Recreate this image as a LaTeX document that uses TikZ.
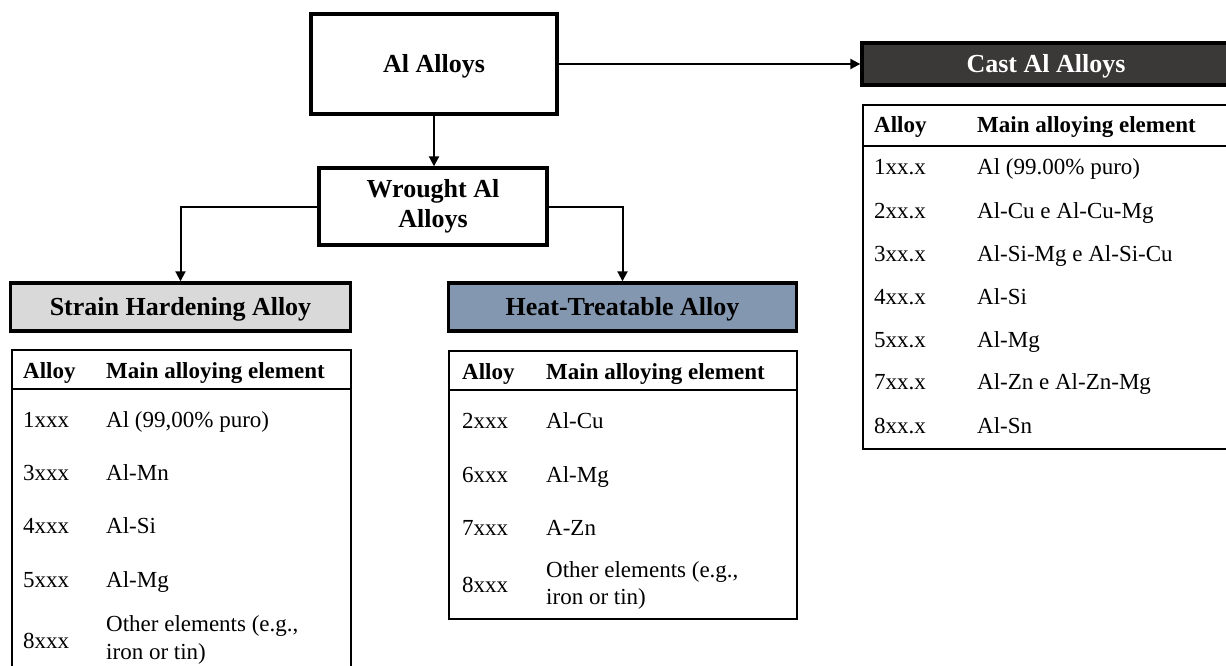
\documentclass[tikz,border=0pt]{standalone}
\usepackage{fontspec}
\setmainfont{Liberation Serif}
\usetikzlibrary{arrows.meta}
\definecolor{strainfill}{HTML}{D9D9D9}
\definecolor{heatfill}{HTML}{8497B0}
\definecolor{castfill}{HTML}{3B3838}
\begin{document}
\begin{tikzpicture}[x=1pt,y=-1pt,
  catbox/.style={draw=black, line width=3.4pt, font=\fontsize{26}{30}\selectfont\bfseries, inner sep=0pt, align=center},
  oneline/.style={text height=17.5pt, text depth=0pt},
  tablebox/.style={draw=black, line width=2pt, anchor=north west, inner sep=0pt},
  sepline/.style={line width=2pt},
  cell/.style={anchor=base west, inner sep=0pt, font=\fontsize{23}{27}\selectfont},
  headcell/.style={cell, font=\fontsize{23}{27}\selectfont\bfseries},
  twocell/.style={anchor=west, inner sep=0pt, align=left, font=\fontsize{23}{27.5}\selectfont},
  conn/.style={line width=2pt, -{Triangle[length=10pt,width=10pt]}},
]
\useasboundingbox (0,0) rectangle (1226,666);

% category boxes
\node[catbox, oneline, minimum width=246pt, minimum height=100pt] (al) at (434,64) {Al Alloys};
\node[catbox, minimum width=228pt, minimum height=77pt] (wrought) at (433,206.5) {Wrought Al\\Alloys};
\node[catbox, oneline, fill=castfill, text=white, minimum width=368pt, minimum height=42pt] (cast) at (1046,64) {Cast Al Alloys};
\node[catbox, oneline, fill=strainfill, minimum width=340pt, minimum height=48pt] (strain) at (180.5,307) {Strain Hardening Alloy};
\node[catbox, oneline, fill=heatfill, minimum width=348pt, minimum height=48pt] (heat) at (622.5,307) {Heat-Treatable Alloy};

% connectors
\draw[conn] (al.south) -- (al.south |- wrought.north);
\draw[conn] (al.east) -- (al.east -| cast.west);
\draw[conn] (wrought.west) -| (strain.north);
\draw[conn] (wrought.east) -| (heat.north);

% strain hardening table
\node[tablebox, minimum width=339pt, minimum height=360pt] (stab) at (11,349) {};
\draw[sepline] (stab.west |- 0,389) -- (stab.east |- 0,389);
\node[headcell] (sh1) at (23,378) {Alloy};
\node[headcell] (sh2) at (106,378) {Main alloying element};
\node[cell] (sa1) at (23,427) {1xxx};
\node[cell] (sb1) at (106,427) {Al (99,00\% puro)};
\node[cell] (sa2) at (23,480) {3xxx};
\node[cell] (sb2) at (106,480) {Al-Mn};
\node[cell] (sa3) at (23,533) {4xxx};
\node[cell] (sb3) at (106,533) {Al-Si};
\node[cell] (sa4) at (23,587) {5xxx};
\node[cell] (sb4) at (106,587) {Al-Mg};
\node[cell] (sa5) at (23,648) {8xxx};
\node[twocell] (sb5) at (106,640) {Other elements (e.g.,\\iron or tin)};

% heat treatable table
\node[tablebox, minimum width=348pt, minimum height=268pt] (htab) at (448,350) {};
\draw[sepline] (htab.west |- 0,390) -- (htab.east |- 0,390);
\node[headcell] (hh1) at (462,379) {Alloy};
\node[headcell] (hh2) at (546,379) {Main alloying element};
\node[cell] (ha1) at (462,428) {2xxx};
\node[cell] (hb1) at (546,428) {Al-Cu};
\node[cell] (ha2) at (462,482) {6xxx};
\node[cell] (hb2) at (546,482) {Al-Mg};
\node[cell] (ha3) at (462,535) {7xxx};
\node[cell] (hb3) at (546,535) {A-Zn};
\node[cell] (ha4) at (462,592) {8xxx};
\node[twocell] (hb4) at (546,585.5) {Other elements (e.g.,\\iron or tin)};

% cast table
\node[tablebox, minimum width=372pt, minimum height=344pt] (ctab) at (862,104) {};
\draw[sepline] (ctab.west |- 0,146) -- (ctab.east |- 0,146);
\node[headcell] (ch1) at (874,132) {Alloy};
\node[headcell] (ch2) at (977,132) {Main alloying element};
\node[cell] (ca1) at (874,175) {1xx.x};
\node[cell] (cb1) at (977,175) {Al (99.00\% puro)};
\node[cell] (ca2) at (874,218) {2xx.x};
\node[cell] (cb2) at (977,218) {Al-Cu e Al-Cu-Mg};
\node[cell] (ca3) at (874,261) {3xx.x};
\node[cell] (cb3) at (977,261) {Al-Si-Mg e Al-Si-Cu};
\node[cell] (ca4) at (874,304) {4xx.x};
\node[cell] (cb4) at (977,304) {Al-Si};
\node[cell] (ca5) at (874,347) {5xx.x};
\node[cell] (cb5) at (977,347) {Al-Mg};
\node[cell] (ca6) at (874,389) {7xx.x};
\node[cell] (cb6) at (977,389) {Al-Zn e Al-Zn-Mg};
\node[cell] (ca7) at (874,433) {8xx.x};
\node[cell] (cb7) at (977,433) {Al-Sn};
\end{tikzpicture}
\end{document}
